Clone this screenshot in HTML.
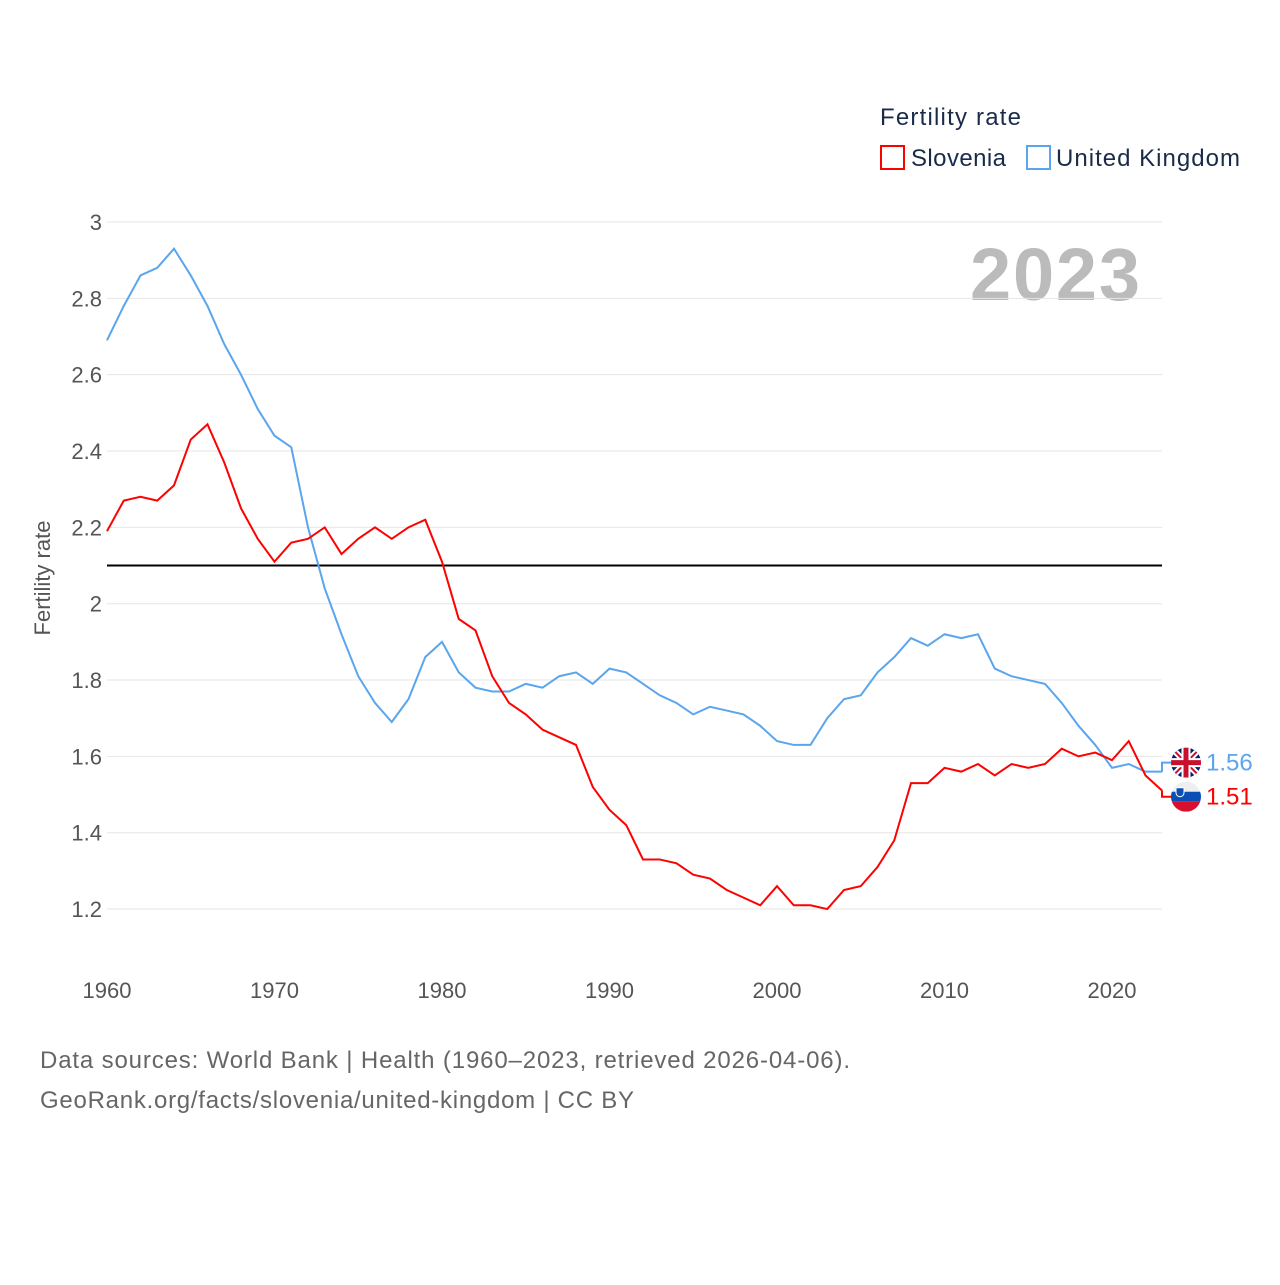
<!DOCTYPE html>
<html><head><meta charset="utf-8"><style>
body{margin:0;background:#fff;font-family:"Liberation Sans",sans-serif}
svg text{font-family:"Liberation Sans",sans-serif}
</style></head><body>
<svg id="c" width="1280" height="1280">
<text x="880" y="125" font-size="24" fill="#1a2b4a" textLength="141">Fertility rate</text>
<g><rect x="881" y="146" width="23" height="23" fill="none" stroke="#f00" stroke-width="2"/><text x="911" y="166" font-size="24" fill="#1a2b4a" textLength="95">Slovenia</text></g>
<g><rect x="1027" y="146" width="23" height="23" fill="none" stroke="#5aa5ee" stroke-width="2"/><text x="1056" y="166" font-size="24" fill="#1a2b4a" textLength="184">United Kingdom</text></g>
<text x="1140" y="300" font-size="74" font-weight="bold" fill="#bbb" text-anchor="end" textLength="170">2023</text>
<text transform="translate(50,578) rotate(-90)" font-size="22" fill="#555" text-anchor="middle">Fertility rate</text>
<g id="grid"></g><g id="series"></g>
<text x="40" y="1068" font-size="24" fill="#666" textLength="810">Data sources: World Bank | Health (1960–2023, retrieved 2026-04-06).</text>
<text x="40" y="1108" font-size="24" fill="#666" textLength="594">GeoRank.org/facts/slovenia/united-kingdom | CC BY</text>
</svg>
<script>
const years=[];for(let y=1960;y<=2023;y++)years.push(y);
const ukValues=[2.69,2.78,2.86,2.88,2.93,2.86,2.78,2.68,2.60,2.51,2.44,2.41,2.20,2.04,1.92,1.81,1.74,1.69,1.75,1.86,1.90,1.82,1.78,1.77,1.77,1.79,1.78,1.81,1.82,1.79,1.83,1.82,1.79,1.76,1.74,1.71,1.73,1.72,1.71,1.68,1.64,1.63,1.63,1.70,1.75,1.76,1.82,1.86,1.91,1.89,1.92,1.91,1.92,1.83,1.81,1.80,1.79,1.74,1.68,1.63,1.57,1.58,1.56,1.56];
const siValues=[2.19,2.27,2.28,2.27,2.31,2.43,2.47,2.37,2.25,2.17,2.11,2.16,2.17,2.20,2.13,2.17,2.20,2.17,2.20,2.22,2.11,1.96,1.93,1.81,1.74,1.71,1.67,1.65,1.63,1.52,1.46,1.42,1.33,1.33,1.32,1.29,1.28,1.25,1.23,1.21,1.26,1.21,1.21,1.20,1.25,1.26,1.31,1.38,1.53,1.53,1.57,1.56,1.58,1.55,1.58,1.57,1.58,1.62,1.60,1.61,1.59,1.64,1.55,1.51];
const yTicks=[1.2,1.4,1.6,1.8,2,2.2,2.4,2.6,2.8,3];
const xTicks=[1960,1970,1980,1990,2000,2010,2020];
const refValue=[2.1];
const X=y=>107+(y-1960)*16.75, Y=v=>222+(3-v)*381.7;
const NS='http://www.w3.org/2000/svg';
const g=document.getElementById('grid'), s=document.getElementById('series');
function mk(t,a,p){const e=document.createElementNS(NS,t);for(const k in a)e.setAttribute(k,a[k]);p.appendChild(e);return e;}
yTicks.forEach(v=>{
 const l=mk('line',{x1:107,x2:1162,y1:Y(v),y2:Y(v),stroke:'#e6e6e6'},g);
 
 
 const t=mk('text',{x:102,y:Y(v)+8,'font-size':22,fill:'#555','text-anchor':'end'},g);t.textContent=String(v);
 
 
});
xTicks.forEach(v=>{
 const t=mk('text',{x:X(v),y:998,'font-size':22,fill:'#555','text-anchor':'middle'},g);t.textContent=v;
 
 
});
const r=mk('line',{x1:107,x2:1162,y1:Y(refValue[0]),y2:Y(refValue[0]),stroke:'#000','stroke-width':2},s);


function line(vals,col,name){
 const p=mk('polyline',{points:vals.map((v,i)=>X(years[i])+','+Y(v)).join(' '),fill:'none',stroke:col,'stroke-width':2},s);
 
 
}
line(ukValues,'#5aa5ee','uk-line');line(siValues,'#f00','slovenia-line');
const lastUK=ukValues[ukValues.length-1], lastSI=siValues[siValues.length-1];
const uy=Y(lastUK)-9, sy=Y(lastSI)+6;
const c1=mk('polyline',{points:`1162,${Y(lastUK)} 1162,${uy} 1172,${uy}`,fill:'none',stroke:'#5aa5ee','stroke-width':2},s);


const c2=mk('polyline',{points:`1162,${Y(lastSI)} 1162,${sy} 1172,${sy}`,fill:'none',stroke:'#f00','stroke-width':2},s);


const uf=mk('g',{},s);


mk('clipPath',{id:'cu'},uf).appendChild(document.createElementNS(NS,'circle')).setAttribute('r',15);
document.querySelector('#cu circle').setAttribute('cx',1186);document.querySelector('#cu circle').setAttribute('cy',uy);
const ug=mk('g',{'clip-path':'url(#cu)'},uf);
mk('rect',{x:1171,y:uy-15,width:30,height:30,fill:'#012169'},ug);
mk('path',{d:`M1171 ${uy-15}L1201 ${uy+15}M1201 ${uy-15}L1171 ${uy+15}`,stroke:'#fff','stroke-width':6},ug);
mk('path',{d:`M1171 ${uy-15}L1201 ${uy+15}M1201 ${uy-15}L1171 ${uy+15}`,stroke:'#c8102e','stroke-width':2},ug);
mk('path',{d:`M1186 ${uy-15}V${uy+15}M1171 ${uy}H1201`,stroke:'#fff','stroke-width':9},ug);
mk('path',{d:`M1186 ${uy-15}V${uy+15}M1171 ${uy}H1201`,stroke:'#c8102e','stroke-width':5},ug);
const sf=mk('g',{},s);


mk('clipPath',{id:'cs'},sf).appendChild(document.createElementNS(NS,'circle')).setAttribute('r',15);
document.querySelector('#cs circle').setAttribute('cx',1186);document.querySelector('#cs circle').setAttribute('cy',sy);
const sg=mk('g',{'clip-path':'url(#cs)'},sf);
mk('rect',{x:1171,y:sy-15,width:30,height:10,fill:'#eee'},sg);
mk('rect',{x:1171,y:sy-5,width:30,height:10,fill:'#0a4fb4'},sg);
mk('rect',{x:1171,y:sy+5,width:30,height:10,fill:'#d8102e'},sg);
mk('path',{d:`M1176 ${sy-9}h8v5a4 4 0 0 1-8 0z`,fill:'#0a4fb4',stroke:'#fff','stroke-width':1},sg);
const lu=mk('text',{x:1206,y:uy+8,'font-size':24,fill:'#5aa5ee'},s);lu.textContent=lastUK.toFixed(2);


const ls=mk('text',{x:1206,y:sy+8,'font-size':24,fill:'#f00'},s);ls.textContent=lastSI.toFixed(2);


</script>
</body></html>
